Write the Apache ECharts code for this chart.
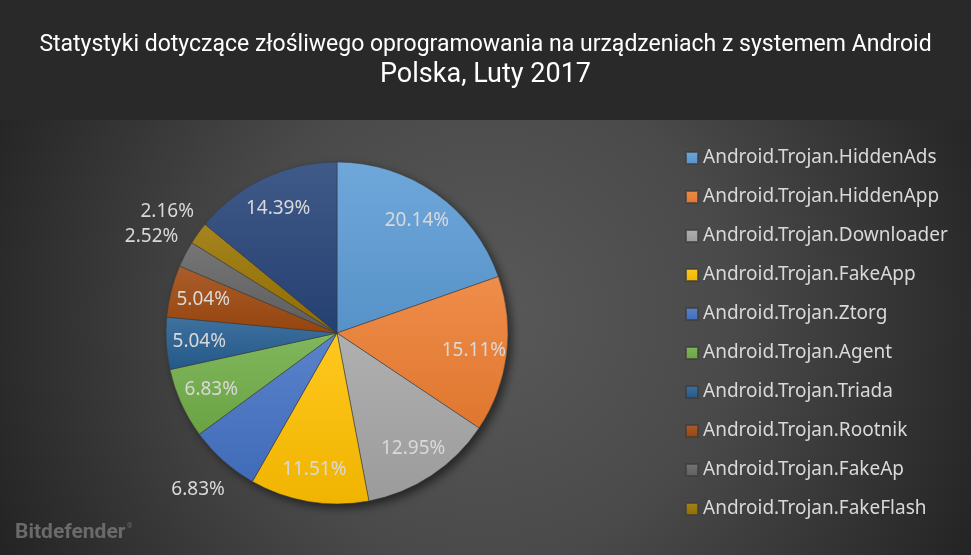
<!DOCTYPE html>
<html>
<head>
<meta charset="utf-8">
<script src="https://cdn.jsdelivr.net/npm/echarts@6/dist/echarts.min.js"></script>
<style>
html,body{margin:0;padding:0;background:#292929;}
#c{width:971px;height:555px;}
</style>
</head>
<body>
<div id="c"></div>
<script>
// ---- data ----
const titleLine1 = 'Statystyki dotyczące złośliwego oprogramowania na urządzeniach z systemem Android';
const titleLine2 = 'Polska, Luty 2017';
const categories = [
  'Android.Trojan.HiddenAds',
  'Android.Trojan.HiddenApp',
  'Android.Trojan.Downloader',
  'Android.Trojan.FakeApp',
  'Android.Trojan.Ztorg',
  'Android.Trojan.Agent',
  'Android.Trojan.Triada',
  'Android.Trojan.Rootnik',
  'Android.Trojan.FakeAp',
  'Android.Trojan.FakeFlash',
  'Inne'
];
const values = [20.14, 15.11, 12.95, 11.51, 6.83, 6.83, 5.04, 5.04, 2.52, 2.16, 14.39];
const legendNames = categories.slice(0, 10);
const outsideLabelNames = ['Android.Trojan.Ztorg', 'Android.Trojan.FakeAp', 'Android.Trojan.FakeFlash'];

// ---- styles ----
const colors = ['#5B9BD5', '#ED7D31', '#A5A5A5', '#FFC000', '#4472C4', '#70AD47',
                '#255E91', '#9E480E', '#636363', '#997300', '#264478'];

function mix(hex, target, t) {
  const n = parseInt(hex.slice(1), 16);
  const r = (n >> 16) & 255, g = (n >> 8) & 255, b = n & 255;
  const f = v => Math.round(v + (target - v) * t);
  return 'rgb(' + f(r) + ',' + f(g) + ',' + f(b) + ')';
}
function grad(c) {
  return {
    type: 'linear', x: 0, y: 0, x2: 0, y2: 1,
    colorStops: [
      { offset: 0, color: mix(c, 255, 0.12) },
      { offset: 1, color: mix(c, 0, 0.06) }
    ]
  };
}

const CX = 337, CY = 333, R = 171;
const labelFont = { fontFamily: '"Noto Sans", sans-serif', fontSize: 19, color: '#d9d9d9' };

const mainData = categories.map((name, i) => ({
  name, value: values[i],
  itemStyle: { color: grad(colors[i]) }
}));
const innerLabelData = categories.map((name, i) => ({
  name, value: values[i],
  label: { show: outsideLabelNames.indexOf(name) < 0 }
}));
const outerLabelData = categories.map((name, i) => ({
  name, value: values[i],
  label: { show: outsideLabelNames.indexOf(name) >= 0 }
}));

const chart = echarts.init(document.getElementById('c'), null, { renderer: 'canvas' });
chart.setOption({
  animation: false,
  backgroundColor: '#292929',
  title: [
    {
      text: titleLine1, left: 'center', top: 31, padding: 0,
      textStyle: { fontFamily: 'Roboto, sans-serif', fontWeight: 'normal', fontSize: 23, lineHeight: 28, color: '#ffffff' }
    },
    {
      text: titleLine2, left: 'center', top: 60, padding: 0,
      textStyle: { fontFamily: 'Roboto, sans-serif', fontWeight: 'normal', fontSize: 27, lineHeight: 30, color: '#ffffff' }
    }
  ],
  graphic: [
    {
      type: 'rect', z: -100, silent: true,
      shape: { x: 0, y: 120, width: 971, height: 435 },
      style: {
        fill: {
          type: 'radial', x: 0.5, y: 0.45, r: 1.25,
          colorStops: [
            { offset: 0, color: '#595959' },
            { offset: 0.45, color: '#4a4a4a' },
            { offset: 1, color: '#232323' }
          ]
        }
      }
    },
    {
      type: 'text', z: 100, left: 15, top: 522, silent: true,
      style: { text: 'Bitdefender', fill: '#6a6a6a', font: 'bold 21px Roboto, sans-serif' }
    },
    {
      type: 'text', z: 100, left: 127, top: 523, silent: true,
      style: { text: '®', fill: '#6a6a6a', font: '7px Roboto, sans-serif' }
    }
  ],
  legend: {
    data: legendNames,
    orient: 'vertical',
    left: 685, top: 147, padding: 0,
    itemWidth: 12, itemHeight: 12,
    itemGap: 17,
    icon: 'rect',
    selectedMode: false,
    textStyle: { fontFamily: '"Noto Sans", sans-serif', fontSize: 19, lineHeight: 22, color: '#d9d9d9' }
  },
  series: [
    {
      type: 'pie', z: 1, silent: true,
      center: [CX, CY], radius: [0, R],
      data: [{ name: '__shadow', value: 1 }],
      itemStyle: { color: '#3a3a3a', shadowColor: 'rgba(0,0,0,0.55)', shadowBlur: 10, shadowOffsetX: 4, shadowOffsetY: 4 },
      label: { show: false }, labelLine: { show: false },
      emphasis: { disabled: true }
    },
    {
      type: 'pie', z: 2, silent: true,
      center: [CX, CY], radius: [0, R],
      startAngle: 90, clockwise: true,
      data: mainData,
      itemStyle: { borderColor: 'rgba(60,60,60,0.7)', borderWidth: 0.8 },
      label: { show: false }, labelLine: { show: false },
      emphasis: { disabled: true }
    },
    {
      type: 'pie', z: 3, silent: true,
      center: [CX, CY], radius: [99, R],
      startAngle: 90, clockwise: true,
      data: innerLabelData,
      itemStyle: { color: 'rgba(0,0,0,0)', borderWidth: 0 },
      label: Object.assign({ position: 'inside', formatter: p => p.value.toFixed(2) + '%' }, labelFont),
      labelLine: { show: false },
      emphasis: { disabled: true }
    },
    {
      type: 'pie', z: 3, silent: true,
      center: [CX, CY], radius: [196, 216],
      startAngle: 90, clockwise: true,
      data: outerLabelData,
      itemStyle: { color: 'rgba(0,0,0,0)', borderWidth: 0 },
      label: Object.assign({ position: 'inside', formatter: p => p.value.toFixed(2) + '%' }, labelFont),
      labelLine: { show: false },
      emphasis: { disabled: true }
    }
  ]
});
</script>
</body>
</html>
